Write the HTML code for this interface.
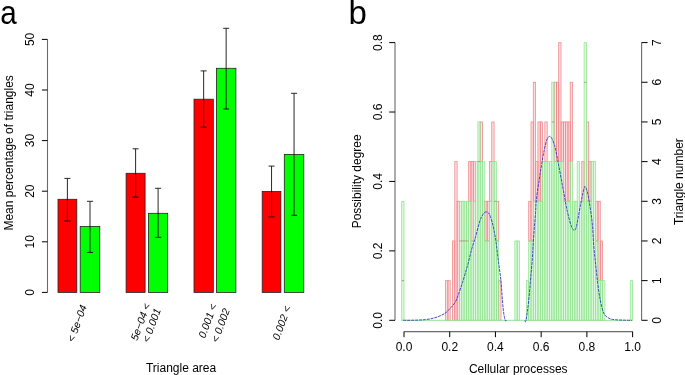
<!DOCTYPE html>
<html><head><meta charset="utf-8"><style>
html,body{margin:0;padding:0;background:#fff;}
svg{display:block;font-family:"Liberation Sans", sans-serif;filter:blur(0.35px);}
</style></head><body>
<svg width="685" height="375" viewBox="0 0 685 375">
<rect width="685" height="375" fill="#fff"/>
<text transform="translate(0.2 23.6) scale(0.9 1)" font-size="33" fill="#000">a</text>
<path d="M47.5 292.40V39.40" stroke="#6a6a6a" stroke-width="1.1" fill="none"/>
<path d="M41.9 292.40H47.5" stroke="#000" stroke-width="1"/>
<text transform="translate(33.9 292.40) rotate(-90)" text-anchor="middle" font-size="12">0</text>
<path d="M41.9 241.80H47.5" stroke="#000" stroke-width="1"/>
<text transform="translate(33.9 241.80) rotate(-90)" text-anchor="middle" font-size="12">10</text>
<path d="M41.9 191.20H47.5" stroke="#000" stroke-width="1"/>
<text transform="translate(33.9 191.20) rotate(-90)" text-anchor="middle" font-size="12">20</text>
<path d="M41.9 140.60H47.5" stroke="#000" stroke-width="1"/>
<text transform="translate(33.9 140.60) rotate(-90)" text-anchor="middle" font-size="12">30</text>
<path d="M41.9 90.00H47.5" stroke="#000" stroke-width="1"/>
<text transform="translate(33.9 90.00) rotate(-90)" text-anchor="middle" font-size="12">40</text>
<path d="M41.9 39.40H47.5" stroke="#000" stroke-width="1"/>
<text transform="translate(33.9 39.40) rotate(-90)" text-anchor="middle" font-size="12">50</text>
<rect x="58.0" y="199.3" width="18.80" height="93.10" fill="#ff0000" stroke="#222" stroke-width="0.8"/>
<rect x="80.2" y="226.4" width="19.60" height="66.00" fill="#00ff00" stroke="#222" stroke-width="0.8"/>
<rect x="126.1" y="173.3" width="19.00" height="119.10" fill="#ff0000" stroke="#222" stroke-width="0.8"/>
<rect x="148.5" y="213.3" width="19.20" height="79.10" fill="#00ff00" stroke="#222" stroke-width="0.8"/>
<rect x="194.0" y="99.2" width="19.30" height="193.20" fill="#ff0000" stroke="#222" stroke-width="0.8"/>
<rect x="216.4" y="68.3" width="19.50" height="224.10" fill="#00ff00" stroke="#222" stroke-width="0.8"/>
<rect x="262.2" y="191.5" width="18.70" height="100.90" fill="#ff0000" stroke="#222" stroke-width="0.8"/>
<rect x="284.3" y="154.4" width="19.50" height="138.00" fill="#00ff00" stroke="#222" stroke-width="0.8"/>
<path d="M67.40 178.4V221.0M64.40 178.4h6M64.40 221.0h6" stroke="#111" stroke-width="0.9" fill="none"/>
<path d="M90.00 201.3V252.4M87.00 201.3h6M87.00 252.4h6" stroke="#111" stroke-width="0.9" fill="none"/>
<path d="M135.60 148.8V197.1M132.60 148.8h6M132.60 197.1h6" stroke="#111" stroke-width="0.9" fill="none"/>
<path d="M158.10 188.3V237.3M155.10 188.3h6M155.10 237.3h6" stroke="#111" stroke-width="0.9" fill="none"/>
<path d="M203.65 70.9V127.2M200.65 70.9h6M200.65 127.2h6" stroke="#111" stroke-width="0.9" fill="none"/>
<path d="M226.15 28.3V109.0M223.15 28.3h6M223.15 109.0h6" stroke="#111" stroke-width="0.9" fill="none"/>
<path d="M271.55 166.1V216.9M268.55 166.1h6M268.55 216.9h6" stroke="#111" stroke-width="0.9" fill="none"/>
<path d="M294.05 93.3V215.3M291.05 93.3h6M291.05 215.3h6" stroke="#111" stroke-width="0.9" fill="none"/>
<text transform="translate(87.0 306.5) rotate(-70)" text-anchor="end" font-size="10.5" font-style="italic">&lt; 5e−04</text>
<text transform="translate(150.5 305.0) rotate(-70)" text-anchor="end" font-size="10.5" font-style="italic">5e−04 &lt;</text>
<text transform="translate(161.0 310.0) rotate(-70)" text-anchor="end" font-size="10.5" font-style="italic">&lt; 0.001</text>
<text transform="translate(217.0 305.5) rotate(-70)" text-anchor="end" font-size="10.5" font-style="italic">0.001 &lt;</text>
<text transform="translate(230.0 310.0) rotate(-70)" text-anchor="end" font-size="10.5" font-style="italic">&lt; 0.002</text>
<text transform="translate(291.0 307.5) rotate(-70)" text-anchor="end" font-size="10.5" font-style="italic">0.002 &lt;</text>
<text x="181.1" y="371.7" text-anchor="middle" font-size="12">Triangle area</text>
<text transform="translate(13.3 152.9) rotate(-90)" text-anchor="middle" font-size="12">Mean percentage of triangles</text>
<text x="348.4" y="23.6" font-size="33" fill="#000">b</text>
<rect x="445.56" y="280.63" width="2.31" height="39.67" fill="rgba(255,0,0,0.12)" stroke="#ee8a90" stroke-width="0.8"/>
<rect x="447.87" y="280.63" width="2.31" height="39.67" fill="rgba(255,0,0,0.12)" stroke="#ee8a90" stroke-width="0.8"/>
<rect x="452.49" y="240.96" width="2.31" height="79.34" fill="rgba(255,0,0,0.12)" stroke="#ee8a90" stroke-width="0.8"/>
<rect x="454.80" y="161.61" width="2.31" height="158.69" fill="rgba(255,0,0,0.12)" stroke="#ee8a90" stroke-width="0.8"/>
<rect x="457.11" y="201.29" width="2.31" height="119.01" fill="rgba(255,0,0,0.12)" stroke="#ee8a90" stroke-width="0.8"/>
<rect x="468.65" y="161.61" width="2.31" height="39.67" fill="rgba(255,0,0,0.12)" stroke="#ee8a90" stroke-width="0.8"/>
<rect x="470.96" y="161.61" width="2.31" height="79.34" fill="rgba(255,0,0,0.12)" stroke="#ee8a90" stroke-width="0.8"/>
<rect x="473.27" y="161.61" width="2.31" height="39.67" fill="rgba(255,0,0,0.12)" stroke="#ee8a90" stroke-width="0.8"/>
<rect x="480.20" y="121.94" width="2.31" height="39.67" fill="rgba(255,0,0,0.12)" stroke="#ee8a90" stroke-width="0.8"/>
<rect x="484.82" y="201.29" width="2.31" height="39.67" fill="rgba(255,0,0,0.12)" stroke="#ee8a90" stroke-width="0.8"/>
<rect x="487.13" y="201.29" width="2.31" height="39.67" fill="rgba(255,0,0,0.12)" stroke="#ee8a90" stroke-width="0.8"/>
<rect x="489.44" y="161.61" width="2.31" height="39.67" fill="rgba(255,0,0,0.12)" stroke="#ee8a90" stroke-width="0.8"/>
<rect x="491.75" y="121.94" width="2.31" height="39.67" fill="rgba(255,0,0,0.12)" stroke="#ee8a90" stroke-width="0.8"/>
<rect x="496.36" y="201.29" width="2.31" height="39.67" fill="rgba(255,0,0,0.12)" stroke="#ee8a90" stroke-width="0.8"/>
<rect x="498.67" y="280.63" width="2.31" height="39.67" fill="rgba(255,0,0,0.12)" stroke="#ee8a90" stroke-width="0.8"/>
<rect x="528.69" y="201.29" width="2.31" height="39.67" fill="rgba(255,0,0,0.12)" stroke="#ee8a90" stroke-width="0.8"/>
<rect x="531.00" y="121.94" width="2.31" height="119.01" fill="rgba(255,0,0,0.12)" stroke="#ee8a90" stroke-width="0.8"/>
<rect x="533.31" y="82.27" width="2.31" height="119.01" fill="rgba(255,0,0,0.12)" stroke="#ee8a90" stroke-width="0.8"/>
<rect x="535.62" y="161.61" width="2.31" height="39.67" fill="rgba(255,0,0,0.12)" stroke="#ee8a90" stroke-width="0.8"/>
<rect x="537.93" y="121.94" width="2.31" height="79.34" fill="rgba(255,0,0,0.12)" stroke="#ee8a90" stroke-width="0.8"/>
<rect x="540.24" y="121.94" width="2.31" height="79.34" fill="rgba(255,0,0,0.12)" stroke="#ee8a90" stroke-width="0.8"/>
<rect x="544.85" y="121.94" width="2.31" height="39.67" fill="rgba(255,0,0,0.12)" stroke="#ee8a90" stroke-width="0.8"/>
<rect x="554.09" y="82.27" width="2.31" height="79.34" fill="rgba(255,0,0,0.12)" stroke="#ee8a90" stroke-width="0.8"/>
<rect x="556.40" y="82.27" width="2.31" height="79.34" fill="rgba(255,0,0,0.12)" stroke="#ee8a90" stroke-width="0.8"/>
<rect x="558.71" y="42.60" width="2.31" height="119.01" fill="rgba(255,0,0,0.12)" stroke="#ee8a90" stroke-width="0.8"/>
<rect x="561.02" y="121.94" width="2.31" height="39.67" fill="rgba(255,0,0,0.12)" stroke="#ee8a90" stroke-width="0.8"/>
<rect x="563.33" y="121.94" width="2.31" height="79.34" fill="rgba(255,0,0,0.12)" stroke="#ee8a90" stroke-width="0.8"/>
<rect x="565.64" y="121.94" width="2.31" height="79.34" fill="rgba(255,0,0,0.12)" stroke="#ee8a90" stroke-width="0.8"/>
<rect x="567.95" y="121.94" width="2.31" height="79.34" fill="rgba(255,0,0,0.12)" stroke="#ee8a90" stroke-width="0.8"/>
<rect x="570.25" y="82.27" width="2.31" height="79.34" fill="rgba(255,0,0,0.12)" stroke="#ee8a90" stroke-width="0.8"/>
<rect x="581.80" y="161.61" width="2.31" height="39.67" fill="rgba(255,0,0,0.12)" stroke="#ee8a90" stroke-width="0.8"/>
<rect x="586.42" y="121.94" width="2.31" height="79.34" fill="rgba(255,0,0,0.12)" stroke="#ee8a90" stroke-width="0.8"/>
<rect x="588.73" y="161.61" width="2.31" height="39.67" fill="rgba(255,0,0,0.12)" stroke="#ee8a90" stroke-width="0.8"/>
<rect x="595.65" y="201.29" width="2.31" height="39.67" fill="rgba(255,0,0,0.12)" stroke="#ee8a90" stroke-width="0.8"/>
<rect x="597.96" y="201.29" width="2.31" height="79.34" fill="rgba(255,0,0,0.12)" stroke="#ee8a90" stroke-width="0.8"/>
<rect x="600.27" y="240.96" width="2.31" height="39.67" fill="rgba(255,0,0,0.12)" stroke="#ee8a90" stroke-width="0.8"/>
<rect x="401.69" y="201.29" width="2.31" height="119.01" fill="rgba(0,215,0,0.13)" stroke="#96e496" stroke-width="0.8"/>
<rect x="404.00" y="320.30" width="2.31" height="0.00" fill="rgba(0,215,0,0.13)" stroke="#96e496" stroke-width="0.8"/>
<rect x="406.31" y="320.30" width="2.31" height="0.00" fill="rgba(0,215,0,0.13)" stroke="#96e496" stroke-width="0.8"/>
<rect x="408.62" y="320.30" width="2.31" height="0.00" fill="rgba(0,215,0,0.13)" stroke="#96e496" stroke-width="0.8"/>
<rect x="410.93" y="320.30" width="2.31" height="0.00" fill="rgba(0,215,0,0.13)" stroke="#96e496" stroke-width="0.8"/>
<rect x="413.24" y="320.30" width="2.31" height="0.00" fill="rgba(0,215,0,0.13)" stroke="#96e496" stroke-width="0.8"/>
<rect x="415.55" y="320.30" width="2.31" height="0.00" fill="rgba(0,215,0,0.13)" stroke="#96e496" stroke-width="0.8"/>
<rect x="417.85" y="320.30" width="2.31" height="0.00" fill="rgba(0,215,0,0.13)" stroke="#96e496" stroke-width="0.8"/>
<rect x="420.16" y="320.30" width="2.31" height="0.00" fill="rgba(0,215,0,0.13)" stroke="#96e496" stroke-width="0.8"/>
<rect x="422.47" y="320.30" width="2.31" height="0.00" fill="rgba(0,215,0,0.13)" stroke="#96e496" stroke-width="0.8"/>
<rect x="424.78" y="320.30" width="2.31" height="0.00" fill="rgba(0,215,0,0.13)" stroke="#96e496" stroke-width="0.8"/>
<rect x="427.09" y="320.30" width="2.31" height="0.00" fill="rgba(0,215,0,0.13)" stroke="#96e496" stroke-width="0.8"/>
<rect x="429.40" y="320.30" width="2.31" height="0.00" fill="rgba(0,215,0,0.13)" stroke="#96e496" stroke-width="0.8"/>
<rect x="431.71" y="320.30" width="2.31" height="0.00" fill="rgba(0,215,0,0.13)" stroke="#96e496" stroke-width="0.8"/>
<rect x="434.02" y="320.30" width="2.31" height="0.00" fill="rgba(0,215,0,0.13)" stroke="#96e496" stroke-width="0.8"/>
<rect x="436.33" y="320.30" width="2.31" height="0.00" fill="rgba(0,215,0,0.13)" stroke="#96e496" stroke-width="0.8"/>
<rect x="438.64" y="320.30" width="2.31" height="0.00" fill="rgba(0,215,0,0.13)" stroke="#96e496" stroke-width="0.8"/>
<rect x="440.95" y="320.30" width="2.31" height="0.00" fill="rgba(0,215,0,0.13)" stroke="#96e496" stroke-width="0.8"/>
<rect x="443.25" y="320.30" width="2.31" height="0.00" fill="rgba(0,215,0,0.13)" stroke="#96e496" stroke-width="0.8"/>
<rect x="445.56" y="320.30" width="2.31" height="0.00" fill="rgba(0,215,0,0.13)" stroke="#96e496" stroke-width="0.8"/>
<rect x="447.87" y="320.30" width="2.31" height="0.00" fill="rgba(0,215,0,0.13)" stroke="#96e496" stroke-width="0.8"/>
<rect x="450.18" y="320.30" width="2.31" height="0.00" fill="rgba(0,215,0,0.13)" stroke="#96e496" stroke-width="0.8"/>
<rect x="452.49" y="320.30" width="2.31" height="0.00" fill="rgba(0,215,0,0.13)" stroke="#96e496" stroke-width="0.8"/>
<rect x="454.80" y="320.30" width="2.31" height="0.00" fill="rgba(0,215,0,0.13)" stroke="#96e496" stroke-width="0.8"/>
<rect x="457.11" y="320.30" width="2.31" height="0.00" fill="rgba(0,215,0,0.13)" stroke="#96e496" stroke-width="0.8"/>
<rect x="459.42" y="201.29" width="2.31" height="119.01" fill="rgba(0,215,0,0.13)" stroke="#96e496" stroke-width="0.8"/>
<rect x="461.73" y="201.29" width="2.31" height="119.01" fill="rgba(0,215,0,0.13)" stroke="#96e496" stroke-width="0.8"/>
<rect x="464.04" y="201.29" width="2.31" height="119.01" fill="rgba(0,215,0,0.13)" stroke="#96e496" stroke-width="0.8"/>
<rect x="466.35" y="201.29" width="2.31" height="119.01" fill="rgba(0,215,0,0.13)" stroke="#96e496" stroke-width="0.8"/>
<rect x="468.65" y="201.29" width="2.31" height="119.01" fill="rgba(0,215,0,0.13)" stroke="#96e496" stroke-width="0.8"/>
<rect x="470.96" y="240.96" width="2.31" height="79.34" fill="rgba(0,215,0,0.13)" stroke="#96e496" stroke-width="0.8"/>
<rect x="473.27" y="201.29" width="2.31" height="119.01" fill="rgba(0,215,0,0.13)" stroke="#96e496" stroke-width="0.8"/>
<rect x="475.58" y="161.61" width="2.31" height="158.69" fill="rgba(0,215,0,0.13)" stroke="#96e496" stroke-width="0.8"/>
<rect x="477.89" y="121.94" width="2.31" height="198.36" fill="rgba(0,215,0,0.13)" stroke="#96e496" stroke-width="0.8"/>
<rect x="480.20" y="161.61" width="2.31" height="158.69" fill="rgba(0,215,0,0.13)" stroke="#96e496" stroke-width="0.8"/>
<rect x="482.51" y="161.61" width="2.31" height="158.69" fill="rgba(0,215,0,0.13)" stroke="#96e496" stroke-width="0.8"/>
<rect x="484.82" y="240.96" width="2.31" height="79.34" fill="rgba(0,215,0,0.13)" stroke="#96e496" stroke-width="0.8"/>
<rect x="487.13" y="240.96" width="2.31" height="79.34" fill="rgba(0,215,0,0.13)" stroke="#96e496" stroke-width="0.8"/>
<rect x="489.44" y="201.29" width="2.31" height="119.01" fill="rgba(0,215,0,0.13)" stroke="#96e496" stroke-width="0.8"/>
<rect x="491.75" y="161.61" width="2.31" height="158.69" fill="rgba(0,215,0,0.13)" stroke="#96e496" stroke-width="0.8"/>
<rect x="494.05" y="161.61" width="2.31" height="158.69" fill="rgba(0,215,0,0.13)" stroke="#96e496" stroke-width="0.8"/>
<rect x="496.36" y="240.96" width="2.31" height="79.34" fill="rgba(0,215,0,0.13)" stroke="#96e496" stroke-width="0.8"/>
<rect x="498.67" y="320.30" width="2.31" height="0.00" fill="rgba(0,215,0,0.13)" stroke="#96e496" stroke-width="0.8"/>
<rect x="500.98" y="320.30" width="2.31" height="0.00" fill="rgba(0,215,0,0.13)" stroke="#96e496" stroke-width="0.8"/>
<rect x="503.29" y="320.30" width="2.31" height="0.00" fill="rgba(0,215,0,0.13)" stroke="#96e496" stroke-width="0.8"/>
<rect x="505.60" y="320.30" width="2.31" height="0.00" fill="rgba(0,215,0,0.13)" stroke="#96e496" stroke-width="0.8"/>
<rect x="507.91" y="320.30" width="2.31" height="0.00" fill="rgba(0,215,0,0.13)" stroke="#96e496" stroke-width="0.8"/>
<rect x="510.22" y="320.30" width="2.31" height="0.00" fill="rgba(0,215,0,0.13)" stroke="#96e496" stroke-width="0.8"/>
<rect x="512.53" y="320.30" width="2.31" height="0.00" fill="rgba(0,215,0,0.13)" stroke="#96e496" stroke-width="0.8"/>
<rect x="514.84" y="240.96" width="2.31" height="79.34" fill="rgba(0,215,0,0.13)" stroke="#96e496" stroke-width="0.8"/>
<rect x="517.15" y="240.96" width="2.31" height="79.34" fill="rgba(0,215,0,0.13)" stroke="#96e496" stroke-width="0.8"/>
<rect x="519.45" y="320.30" width="2.31" height="0.00" fill="rgba(0,215,0,0.13)" stroke="#96e496" stroke-width="0.8"/>
<rect x="521.76" y="320.30" width="2.31" height="0.00" fill="rgba(0,215,0,0.13)" stroke="#96e496" stroke-width="0.8"/>
<rect x="524.07" y="320.30" width="2.31" height="0.00" fill="rgba(0,215,0,0.13)" stroke="#96e496" stroke-width="0.8"/>
<rect x="526.38" y="280.63" width="2.31" height="39.67" fill="rgba(0,215,0,0.13)" stroke="#96e496" stroke-width="0.8"/>
<rect x="528.69" y="240.96" width="2.31" height="79.34" fill="rgba(0,215,0,0.13)" stroke="#96e496" stroke-width="0.8"/>
<rect x="531.00" y="240.96" width="2.31" height="79.34" fill="rgba(0,215,0,0.13)" stroke="#96e496" stroke-width="0.8"/>
<rect x="533.31" y="201.29" width="2.31" height="119.01" fill="rgba(0,215,0,0.13)" stroke="#96e496" stroke-width="0.8"/>
<rect x="535.62" y="201.29" width="2.31" height="119.01" fill="rgba(0,215,0,0.13)" stroke="#96e496" stroke-width="0.8"/>
<rect x="537.93" y="201.29" width="2.31" height="119.01" fill="rgba(0,215,0,0.13)" stroke="#96e496" stroke-width="0.8"/>
<rect x="540.24" y="201.29" width="2.31" height="119.01" fill="rgba(0,215,0,0.13)" stroke="#96e496" stroke-width="0.8"/>
<rect x="542.55" y="161.61" width="2.31" height="158.69" fill="rgba(0,215,0,0.13)" stroke="#96e496" stroke-width="0.8"/>
<rect x="544.85" y="161.61" width="2.31" height="158.69" fill="rgba(0,215,0,0.13)" stroke="#96e496" stroke-width="0.8"/>
<rect x="547.16" y="161.61" width="2.31" height="158.69" fill="rgba(0,215,0,0.13)" stroke="#96e496" stroke-width="0.8"/>
<rect x="549.47" y="161.61" width="2.31" height="158.69" fill="rgba(0,215,0,0.13)" stroke="#96e496" stroke-width="0.8"/>
<rect x="551.78" y="82.27" width="2.31" height="238.03" fill="rgba(0,215,0,0.13)" stroke="#96e496" stroke-width="0.8"/>
<rect x="554.09" y="161.61" width="2.31" height="158.69" fill="rgba(0,215,0,0.13)" stroke="#96e496" stroke-width="0.8"/>
<rect x="556.40" y="161.61" width="2.31" height="158.69" fill="rgba(0,215,0,0.13)" stroke="#96e496" stroke-width="0.8"/>
<rect x="558.71" y="161.61" width="2.31" height="158.69" fill="rgba(0,215,0,0.13)" stroke="#96e496" stroke-width="0.8"/>
<rect x="561.02" y="161.61" width="2.31" height="158.69" fill="rgba(0,215,0,0.13)" stroke="#96e496" stroke-width="0.8"/>
<rect x="563.33" y="201.29" width="2.31" height="119.01" fill="rgba(0,215,0,0.13)" stroke="#96e496" stroke-width="0.8"/>
<rect x="565.64" y="201.29" width="2.31" height="119.01" fill="rgba(0,215,0,0.13)" stroke="#96e496" stroke-width="0.8"/>
<rect x="567.95" y="201.29" width="2.31" height="119.01" fill="rgba(0,215,0,0.13)" stroke="#96e496" stroke-width="0.8"/>
<rect x="570.25" y="161.61" width="2.31" height="158.69" fill="rgba(0,215,0,0.13)" stroke="#96e496" stroke-width="0.8"/>
<rect x="572.56" y="201.29" width="2.31" height="119.01" fill="rgba(0,215,0,0.13)" stroke="#96e496" stroke-width="0.8"/>
<rect x="574.87" y="201.29" width="2.31" height="119.01" fill="rgba(0,215,0,0.13)" stroke="#96e496" stroke-width="0.8"/>
<rect x="577.18" y="161.61" width="2.31" height="158.69" fill="rgba(0,215,0,0.13)" stroke="#96e496" stroke-width="0.8"/>
<rect x="579.49" y="201.29" width="2.31" height="119.01" fill="rgba(0,215,0,0.13)" stroke="#96e496" stroke-width="0.8"/>
<rect x="581.80" y="201.29" width="2.31" height="119.01" fill="rgba(0,215,0,0.13)" stroke="#96e496" stroke-width="0.8"/>
<rect x="584.11" y="42.60" width="2.31" height="277.70" fill="rgba(0,215,0,0.13)" stroke="#96e496" stroke-width="0.8"/>
<rect x="586.42" y="201.29" width="2.31" height="119.01" fill="rgba(0,215,0,0.13)" stroke="#96e496" stroke-width="0.8"/>
<rect x="588.73" y="201.29" width="2.31" height="119.01" fill="rgba(0,215,0,0.13)" stroke="#96e496" stroke-width="0.8"/>
<rect x="591.04" y="161.61" width="2.31" height="158.69" fill="rgba(0,215,0,0.13)" stroke="#96e496" stroke-width="0.8"/>
<rect x="593.35" y="161.61" width="2.31" height="158.69" fill="rgba(0,215,0,0.13)" stroke="#96e496" stroke-width="0.8"/>
<rect x="595.65" y="240.96" width="2.31" height="79.34" fill="rgba(0,215,0,0.13)" stroke="#96e496" stroke-width="0.8"/>
<rect x="597.96" y="280.63" width="2.31" height="39.67" fill="rgba(0,215,0,0.13)" stroke="#96e496" stroke-width="0.8"/>
<rect x="600.27" y="280.63" width="2.31" height="39.67" fill="rgba(0,215,0,0.13)" stroke="#96e496" stroke-width="0.8"/>
<rect x="602.58" y="280.63" width="2.31" height="39.67" fill="rgba(0,215,0,0.13)" stroke="#96e496" stroke-width="0.8"/>
<rect x="604.89" y="320.30" width="2.31" height="0.00" fill="rgba(0,215,0,0.13)" stroke="#96e496" stroke-width="0.8"/>
<rect x="607.20" y="320.30" width="2.31" height="0.00" fill="rgba(0,215,0,0.13)" stroke="#96e496" stroke-width="0.8"/>
<rect x="609.51" y="320.30" width="2.31" height="0.00" fill="rgba(0,215,0,0.13)" stroke="#96e496" stroke-width="0.8"/>
<rect x="611.82" y="320.30" width="2.31" height="0.00" fill="rgba(0,215,0,0.13)" stroke="#96e496" stroke-width="0.8"/>
<rect x="614.13" y="320.30" width="2.31" height="0.00" fill="rgba(0,215,0,0.13)" stroke="#96e496" stroke-width="0.8"/>
<rect x="616.44" y="320.30" width="2.31" height="0.00" fill="rgba(0,215,0,0.13)" stroke="#96e496" stroke-width="0.8"/>
<rect x="618.75" y="320.30" width="2.31" height="0.00" fill="rgba(0,215,0,0.13)" stroke="#96e496" stroke-width="0.8"/>
<rect x="621.05" y="320.30" width="2.31" height="0.00" fill="rgba(0,215,0,0.13)" stroke="#96e496" stroke-width="0.8"/>
<rect x="623.36" y="320.30" width="2.31" height="0.00" fill="rgba(0,215,0,0.13)" stroke="#96e496" stroke-width="0.8"/>
<rect x="625.67" y="320.30" width="2.31" height="0.00" fill="rgba(0,215,0,0.13)" stroke="#96e496" stroke-width="0.8"/>
<rect x="627.98" y="320.30" width="2.31" height="0.00" fill="rgba(0,215,0,0.13)" stroke="#96e496" stroke-width="0.8"/>
<rect x="630.29" y="280.63" width="2.31" height="39.67" fill="rgba(0,215,0,0.13)" stroke="#96e496" stroke-width="0.8"/>
<path d="M401.69 320.30H632.60" stroke="#96e496" stroke-width="1"/>
<path d="M401.69 280.63h2.31" stroke="#a08a70" stroke-width="0.8"/>
<path d="M459.42 240.96h2.31" stroke="#a08a70" stroke-width="0.8"/>
<path d="M461.73 240.96h2.31" stroke="#a08a70" stroke-width="0.8"/>
<path d="M464.04 240.96h2.31" stroke="#a08a70" stroke-width="0.8"/>
<path d="M466.35 240.96h2.31" stroke="#a08a70" stroke-width="0.8"/>
<path d="M477.89 161.61h2.31" stroke="#a08a70" stroke-width="0.8"/>
<path d="M494.05 201.29h2.31" stroke="#a08a70" stroke-width="0.8"/>
<path d="M551.78 121.94h2.31" stroke="#a08a70" stroke-width="0.8"/>
<path d="M584.11 82.27h2.31" stroke="#a08a70" stroke-width="0.8"/>
<path d="M403.30 320.30 C405.30 320.28 411.60 320.32 415.30 320.20 C419.00 320.08 422.43 319.95 425.50 319.60 C428.57 319.25 431.13 318.78 433.70 318.10 C436.27 317.42 438.85 316.43 440.90 315.50 C442.95 314.57 444.30 313.85 446.00 312.50 C447.70 311.15 449.57 309.10 451.10 307.40 C452.63 305.70 454.02 304.35 455.20 302.30 C456.38 300.25 456.93 298.58 458.20 295.10 C459.47 291.62 461.23 286.35 462.80 281.40 C464.37 276.45 466.13 270.73 467.60 265.40 C469.07 260.07 470.27 254.20 471.60 249.40 C472.93 244.60 474.22 241.35 475.60 236.60 C476.98 231.85 478.60 224.70 479.90 220.90 C481.20 217.10 482.33 215.30 483.40 213.80 C484.47 212.30 485.32 211.85 486.30 211.90 C487.28 211.95 488.32 212.37 489.30 214.10 C490.28 215.83 491.33 219.18 492.20 222.30 C493.07 225.42 493.82 229.18 494.50 232.80 C495.18 236.42 495.62 239.02 496.30 244.00 C496.98 248.98 497.83 256.57 498.60 262.70 C499.37 268.83 500.15 273.25 500.90 280.80 C501.65 288.35 502.42 301.50 503.10 308.00 C503.78 314.50 504.43 317.70 505.00 319.80 C505.57 321.90 506.25 320.47 506.50 320.60 M524.50 320.60 C524.75 320.52 525.30 323.43 526.00 320.10 C526.70 316.77 527.85 308.42 528.70 300.60 C529.55 292.78 530.48 280.30 531.10 273.20 C531.72 266.10 532.08 262.37 532.40 258.00 C532.72 253.63 532.70 251.72 533.00 247.00 C533.30 242.28 533.77 235.48 534.20 229.70 C534.63 223.92 535.25 217.25 535.60 212.30 C535.95 207.35 535.75 205.08 536.30 200.00 C536.85 194.92 538.03 187.58 538.90 181.80 C539.77 176.02 540.63 170.50 541.50 165.30 C542.37 160.10 543.23 154.78 544.10 150.60 C544.97 146.42 545.83 142.57 546.70 140.20 C547.57 137.83 548.43 136.68 549.30 136.40 C550.17 136.12 551.03 137.00 551.90 138.50 C552.77 140.00 553.85 143.42 554.50 145.40 C555.15 147.38 554.93 146.18 555.80 150.40 C556.67 154.62 558.42 163.90 559.70 170.70 C560.98 177.50 562.22 184.37 563.50 191.20 C564.78 198.03 566.12 205.93 567.40 211.70 C568.68 217.47 570.13 222.73 571.20 225.80 C572.27 228.87 572.95 229.90 573.80 230.10 C574.65 230.30 575.23 230.92 576.30 227.00 C577.37 223.08 578.92 213.00 580.20 206.60 C581.48 200.20 583.10 191.80 584.00 188.60 C584.90 185.40 584.97 186.53 585.60 187.40 C586.23 188.27 587.00 190.18 587.80 193.80 C588.60 197.42 589.63 203.90 590.40 209.10 C591.17 214.30 591.83 218.80 592.40 225.00 C592.97 231.20 593.25 239.63 593.80 246.30 C594.35 252.97 595.03 258.77 595.70 265.00 C596.37 271.23 597.05 277.92 597.80 283.70 C598.55 289.48 599.22 294.82 600.20 299.70 C601.18 304.58 602.23 309.90 603.70 313.00 C605.17 316.10 607.13 317.18 609.00 318.30 C610.87 319.42 612.32 319.38 614.90 319.70 C617.48 320.02 621.68 320.10 624.50 320.20 C627.32 320.30 630.58 320.28 631.80 320.30" fill="none" stroke="#2a2ac4" stroke-opacity="0.85" stroke-width="1.0" stroke-dasharray="3 0.9" stroke-linejoin="round"/>
<path d="M395.0 320.30V42.60" stroke="#6a6a6a" stroke-width="1.1" fill="none"/>
<path d="M389.2 320.30H395.0" stroke="#000" stroke-width="1"/>
<text transform="translate(381.9 320.30) rotate(-90)" text-anchor="middle" font-size="12">0.0</text>
<path d="M389.2 250.88H395.0" stroke="#000" stroke-width="1"/>
<text transform="translate(381.9 250.88) rotate(-90)" text-anchor="middle" font-size="12">0.2</text>
<path d="M389.2 181.45H395.0" stroke="#000" stroke-width="1"/>
<text transform="translate(381.9 181.45) rotate(-90)" text-anchor="middle" font-size="12">0.4</text>
<path d="M389.2 112.03H395.0" stroke="#000" stroke-width="1"/>
<text transform="translate(381.9 112.03) rotate(-90)" text-anchor="middle" font-size="12">0.6</text>
<path d="M389.2 42.60H395.0" stroke="#000" stroke-width="1"/>
<text transform="translate(381.9 42.60) rotate(-90)" text-anchor="middle" font-size="12">0.8</text>
<path d="M641.6 320.30V42.60" stroke="#6a6a6a" stroke-width="1.1" fill="none"/>
<path d="M641.6 320.30H647.6" stroke="#000" stroke-width="1"/>
<text transform="translate(660.8 320.30) rotate(-90)" text-anchor="middle" font-size="12">0</text>
<path d="M641.6 280.63H647.6" stroke="#000" stroke-width="1"/>
<text transform="translate(660.8 280.63) rotate(-90)" text-anchor="middle" font-size="12">1</text>
<path d="M641.6 240.96H647.6" stroke="#000" stroke-width="1"/>
<text transform="translate(660.8 240.96) rotate(-90)" text-anchor="middle" font-size="12">2</text>
<path d="M641.6 201.29H647.6" stroke="#000" stroke-width="1"/>
<text transform="translate(660.8 201.29) rotate(-90)" text-anchor="middle" font-size="12">3</text>
<path d="M641.6 161.61H647.6" stroke="#000" stroke-width="1"/>
<text transform="translate(660.8 161.61) rotate(-90)" text-anchor="middle" font-size="12">4</text>
<path d="M641.6 121.94H647.6" stroke="#000" stroke-width="1"/>
<text transform="translate(660.8 121.94) rotate(-90)" text-anchor="middle" font-size="12">5</text>
<path d="M641.6 82.27H647.6" stroke="#000" stroke-width="1"/>
<text transform="translate(660.8 82.27) rotate(-90)" text-anchor="middle" font-size="12">6</text>
<path d="M641.6 42.60H647.6" stroke="#000" stroke-width="1"/>
<text transform="translate(660.8 42.60) rotate(-90)" text-anchor="middle" font-size="12">7</text>
<path d="M404.0 331.6H632.6" stroke="#6a6a6a" stroke-width="1.1" fill="none"/>
<path d="M404.00 331.6V337.20000000000005" stroke="#000" stroke-width="1"/>
<text x="404.00" y="351.2" text-anchor="middle" font-size="12">0.0</text>
<path d="M449.72 331.6V337.20000000000005" stroke="#000" stroke-width="1"/>
<text x="449.72" y="351.2" text-anchor="middle" font-size="12">0.2</text>
<path d="M495.44 331.6V337.20000000000005" stroke="#000" stroke-width="1"/>
<text x="495.44" y="351.2" text-anchor="middle" font-size="12">0.4</text>
<path d="M541.16 331.6V337.20000000000005" stroke="#000" stroke-width="1"/>
<text x="541.16" y="351.2" text-anchor="middle" font-size="12">0.6</text>
<path d="M586.88 331.6V337.20000000000005" stroke="#000" stroke-width="1"/>
<text x="586.88" y="351.2" text-anchor="middle" font-size="12">0.8</text>
<path d="M632.60 331.6V337.20000000000005" stroke="#000" stroke-width="1"/>
<text x="632.60" y="351.2" text-anchor="middle" font-size="12">1.0</text>
<text x="518.25" y="372.8" text-anchor="middle" font-size="12">Cellular processes</text>
<text transform="translate(361 181.3) rotate(-90)" text-anchor="middle" font-size="12">Possibility degree</text>
<text transform="translate(682.7 181.65) rotate(-90)" text-anchor="middle" font-size="12">Triangle number</text>
</svg>
</body></html>
